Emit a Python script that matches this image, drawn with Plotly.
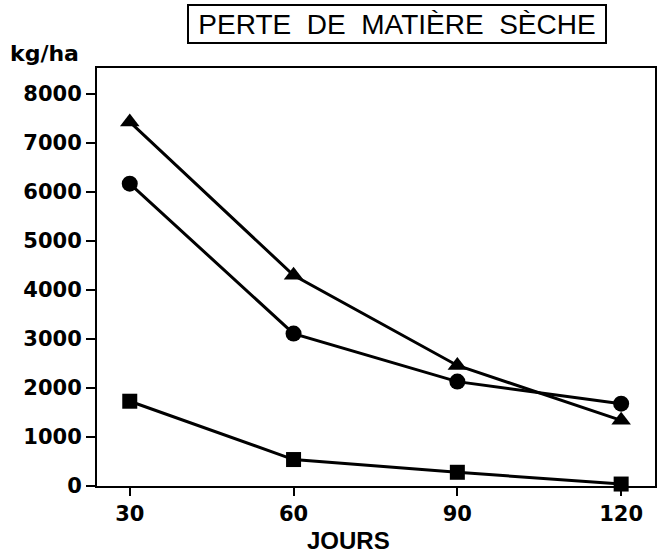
import plotly.graph_objects as go

# Days after start
jours = [30, 60, 90, 120]

# Dry-matter loss (kg/ha) for the three treatments
perte_triangle = [7430, 4300, 2460, 1340]
perte_cercle = [6170, 3110, 2130, 1680]
perte_carre = [1730, 540, 280, 40]

y_ticks = [0, 1000, 2000, 3000, 4000, 5000, 6000, 7000, 8000]
x_ticks = [30, 60, 90, 120]

fig = go.Figure()

series = [
    (perte_triangle, "triangle-up", 17),
    (perte_cercle, "circle", 16),
    (perte_carre, "square", 15),
]
for vals, sym, sz in series:
    fig.add_trace(go.Scatter(
        x=jours, y=vals, mode="lines+markers",
        line=dict(color="black", width=3),
        marker=dict(symbol=sym, size=sz, color="black"),
        showlegend=False, cliponaxis=False,
    ))

tick_font = dict(family="DejaVu Sans", size=21, color="black", weight="bold")

fig.update_xaxes(
    range=[24, 126.2], tickvals=x_ticks, ticktext=[str(v) for v in x_ticks],
    ticks="outside", ticklen=8, tickwidth=2, tickcolor="black",
    showline=True, linecolor="black", linewidth=2, mirror=True,
    showgrid=False, zeroline=False, tickfont=tick_font,
)
fig.update_yaxes(
    range=[0, 8530], tickvals=y_ticks, ticktext=[str(v) for v in y_ticks],
    ticks="outside", ticklen=9, tickwidth=2, tickcolor="black",
    showline=True, linecolor="black", linewidth=2, mirror=True,
    showgrid=False, zeroline=False, tickfont=tick_font,
)

fig.add_annotation(
    text="PERTE  DE  MATIÈRE  SÈCHE", xref="paper", yref="paper",
    x=0.5375, y=1.105, xanchor="center", yanchor="middle",
    showarrow=False, width=412, height=32,
    font=dict(family="Liberation Sans Narrow, Liberation Sans", size=28, color="black"),
    bordercolor="black", borderwidth=2, borderpad=2, bgcolor="white",
)
fig.add_annotation(
    text="<b>kg/ha</b>", xref="paper", yref="paper",
    x=-0.159, y=1.034, xanchor="left", yanchor="middle", showarrow=False,
    font=dict(family="DejaVu Sans", size=22, color="black"),
)
fig.add_annotation(
    text="<b>JOURS</b>", xref="paper", yref="paper",
    x=0.45, y=-0.13, xanchor="center", yanchor="middle", showarrow=False,
    font=dict(family="Liberation Sans Narrow, Liberation Sans", size=24, color="black"),
)

fig.update_layout(
    width=659, height=559,
    margin=dict(l=97, r=2, t=68, b=73),
    paper_bgcolor="white", plot_bgcolor="white",
)

fig.write_html("out.html")
